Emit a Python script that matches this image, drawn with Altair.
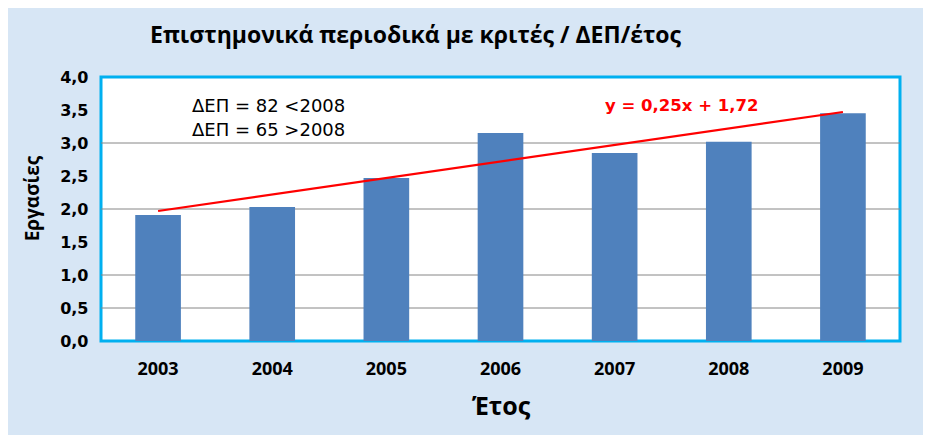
import altair as alt
import pandas as pd

years = ["2003", "2004", "2005", "2006", "2007", "2008", "2009"]
papers = [1.91, 2.03, 2.47, 3.15, 2.85, 3.02, 3.45]
trend_years = ["2003", "2009"]
trend_values = [1.97, 3.47]
grid_values = [0.5, 1.0, 2.0, 3.0]
tick_values = [0, 0.5, 1.0, 1.5, 2.0, 2.5, 3.0, 3.5, 4.0]
notes = ["ΔΕΠ = 82 <2008", "ΔΕΠ = 65 >2008"]
equation = ["y = 0,25x + 1,72"]

title_text = "Επιστημονικά περιοδικά με κριτές / ΔΕΠ/έτος"

bars_df = pd.DataFrame({"year": years, "value": papers})
trend_df = pd.DataFrame({"year": trend_years, "value": trend_values})
grid_df = pd.DataFrame({"value": grid_values})

W, H = 799, 264

xscale = alt.Scale(domain=years, paddingInner=0.6, paddingOuter=0.3)
yscale = alt.Scale(domain=[0, 4], nice=False)

x_enc = alt.X(
    "year:N",
    scale=xscale,
    axis=alt.Axis(
        title="Έτος",
        labelAngle=0,
        labelFont="Open Sans",
        labelFontSize=18,
        labelFontWeight="bold",
        labelColor="black",
        labelPadding=19,
        ticks=False,
        domain=False,
        titleFont="Open Sans",
        titleFontSize=25,
        titleFontWeight="bold",
        titleColor="black",
        titlePadding=16,
    ),
)

y_axis = alt.Axis(
    title="Εργασίες",
    values=tick_values,
    labelExpr="replace(format(datum.value, '.1f'), '.', ',')",
    labelOverlap=False,
    labelFont="DejaVu Sans",
    labelFontSize=16,
    labelFontWeight="bold",
    labelColor="black",
    labelPadding=13,
    ticks=False,
    domain=False,
    grid=False,
    titleFont="Open Sans",
    titleFontSize=19,
    titleFontWeight="bold",
    titleColor="black",
    titlePadding=17,
    titleY=121,
)

grid = alt.Chart(grid_df).mark_rule(color="#868686", strokeWidth=1).encode(
    y=alt.Y("value:Q", scale=yscale, axis=y_axis)
)

bars = alt.Chart(bars_df).mark_bar(color="#4F81BD").encode(
    x=x_enc, y=alt.Y("value:Q", scale=yscale, axis=y_axis)
)

trend = alt.Chart(trend_df).mark_line(color="#FF0000", strokeWidth=2.2).encode(
    x=alt.X("year:N", scale=xscale),
    y=alt.Y("value:Q", scale=yscale, axis=y_axis),
)

note_style = dict(align="left", baseline="middle", font="DejaVu Sans",
                  fontSize=18, color="black")
note1 = alt.Chart(pd.DataFrame({"t": [notes[0]]})).mark_text(**note_style).encode(
    text="t:N", x=alt.value(91), y=alt.value(30)
)
note2 = alt.Chart(pd.DataFrame({"t": [notes[1]]})).mark_text(**note_style).encode(
    text="t:N", x=alt.value(91), y=alt.value(54)
)

eq = alt.Chart(pd.DataFrame({"t": equation})).mark_text(
    align="left", baseline="middle", font="DejaVu Sans", fontSize=16.5,
    fontWeight="bold", color="#FF0000"
).encode(text="t:N", x=alt.value(504), y=alt.value(29))

chart = (
    alt.layer(grid, bars, trend, note1, note2, eq)
    .properties(
        width=W,
        height=H,
        autosize=alt.AutoSizeParams(type="none"),
        padding={"left": 93, "top": 69, "right": 23, "bottom": 94},
        title=alt.TitleParams(
            text=title_text,
            anchor="start",
            frame="group",
            dx=49,
            offset=21,
            font="Open Sans",
            fontSize=23,
            fontWeight="bold",
            color="black",
        ),
        background="#D7E6F5",
    )
    .configure_axisY(labelOverlap=False)
    .configure_view(fill="white", stroke="#00B0F0", strokeWidth=3)
)

chart.save("out.html", embed_options={"renderer": "svg", "actions": False})
